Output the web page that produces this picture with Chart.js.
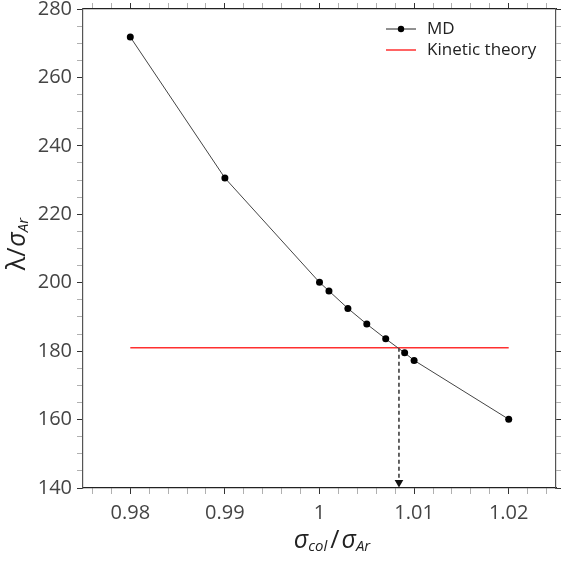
<!DOCTYPE html>
<html>
<head>
<meta charset="utf-8">
<script src="https://cdn.jsdelivr.net/npm/chart.js@4/dist/chart.umd.min.js"></script>
<style>
html,body{margin:0;padding:0;background:#fff;}
#wrap{width:561px;height:561px;position:relative;}
</style>
</head>
<body>
<div id="wrap"><canvas id="c" width="561" height="561"></canvas></div>
<script>
// ---- data ----
const sigmaRatio = [0.98, 0.99, 1.000, 1.001, 1.003, 1.005, 1.007, 1.009, 1.010, 1.020];
const lambdaMD   = [271.8, 230.6, 200.1, 197.6, 192.5, 187.9, 183.6, 179.5, 177.3, 160.1];
const kineticX   = [0.98, 1.02];
const kineticY   = [181, 181];
const arrowX     = [1.0084, 1.0084];
const arrowY     = [181, 141.6];
const xMajorTicks = [0.98, 0.99, 1, 1.01, 1.02];
const xMinorStep  = 0.002;
const yMajorTicks = [140, 160, 180, 200, 220, 240, 260, 280];
const yMinorStep  = 5;
const seriesLabels = ["MD", "Kinetic theory"];

const toPts = (xs, ys) => xs.map((x, i) => ({x: x, y: ys[i]}));
const isMajor = (v, list) => list.some(m => Math.abs(m - v) < 1e-7);

const FONT = "'Open Sans', 'Noto Sans', sans-serif";

function stepTicks(scale, step) {
  const out = [];
  const k0 = Math.ceil(scale.min / step - 1e-9), k1 = Math.floor(scale.max / step + 1e-9);
  for (let k = k0; k <= k1; k++) out.push({ value: Math.round(k * step * 1e6) / 1e6 });
  scale.ticks = out;
}

const titlesPlugin = {
  id: 'titles',
  afterDraw(chart) {
    const ctx = chart.ctx;
    ctx.save();
    ctx.fillStyle = '#222';
    ctx.textBaseline = 'alphabetic';
    function drawPieces(pieces, cx, by) {
      let w = 0;
      pieces.forEach(p => { ctx.font = p[1]; w += ctx.measureText(p[0]).width + (p[3] || 0); });
      let x = cx - w / 2;
      pieces.forEach(p => {
        ctx.font = p[1];
        ctx.fillText(p[0], x, by + p[2]);
        x += ctx.measureText(p[0]).width + (p[3] || 0);
      });
    }
    const big = "italic 25px " + FONT;
    const up = "25px " + FONT;
    const sub = "italic 15px " + FONT;
    drawPieces([
      ["σ", big, 0, 0], ["col", sub, 3, 3], ["/", up, 0, 2], ["σ", big, 0, 0], ["Ar", sub, 3, 0]
    ], 332, 548);
    ctx.translate(25, 244);
    ctx.rotate(-Math.PI / 2);
    drawPieces([
      ["λ", up, 0, 0], ["/", up, 0, 1], ["σ", big, 0, 0], ["Ar", sub, 3, 0]
    ], 0, 0);
    ctx.restore();
  }
};

const legendPlugin = {
  id: 'insideLegend',
  afterDraw(chart) {
    const ctx = chart.ctx;
    const a = chart.chartArea;
    ctx.save();
    const x0 = a.right - 170, x1 = a.right - 140, tx = a.right - 129;
    const rows = [a.top + 20, a.top + 41];
    ctx.strokeStyle = '#222'; ctx.lineWidth = 1;
    ctx.beginPath(); ctx.moveTo(x0, rows[0]); ctx.lineTo(x1, rows[0]); ctx.stroke();
    ctx.fillStyle = '#000';
    ctx.beginPath(); ctx.arc((x0 + x1) / 2, rows[0], 3.2, 0, Math.PI * 2); ctx.fill();
    ctx.strokeStyle = '#ff3030'; ctx.lineWidth = 1.5;
    ctx.beginPath(); ctx.moveTo(x0, rows[1]); ctx.lineTo(x1, rows[1]); ctx.stroke();
    ctx.fillStyle = '#222';
    ctx.font = "17px " + FONT;
    ctx.textBaseline = 'middle';
    ctx.fillText(seriesLabels[0], tx, rows[0]);
    ctx.fillText(seriesLabels[1], tx, rows[1]);
    ctx.restore();
  }
};

function tickGrid(list) {
  return {
    display: true,
    drawOnChartArea: false,
    drawTicks: true,
    tickLength: 6,
    tickWidth: 1,
    tickColor: (c) => (c.tick && isMajor(c.tick.value, list)) ? '#333' : '#b0b0b0'
  };
}

new Chart(document.getElementById('c'), {
  type: 'scatter',
  data: {
    datasets: [
      {
        label: seriesLabels[0],
        data: toPts(sigmaRatio, lambdaMD),
        showLine: true,
        borderColor: '#444',
        borderWidth: 1,
        pointRadius: 3.5,
        pointBackgroundColor: '#000',
        pointBorderWidth: 0,
        order: 1
      },
      {
        label: seriesLabels[1],
        data: toPts(kineticX, kineticY),
        showLine: true,
        borderColor: '#ff3030',
        borderWidth: 1.5,
        pointRadius: 0,
        order: 2
      },
      {
        label: 'arrow',
        data: toPts(arrowX, arrowY),
        showLine: true,
        borderColor: '#111',
        borderWidth: 1.3,
        borderDash: [4, 3],
        pointRadius: [0, 5],
        pointStyle: 'triangle',
        rotation: 180,
        pointBackgroundColor: '#111',
        pointBorderWidth: 0,
        clip: false,
        order: 3
      }
    ]
  },
  options: {
    responsive: false,
    animation: false,
    layout: { padding: 0 },
    plugins: { legend: { display: false }, tooltip: { enabled: false }, title: { display: false } },
    scales: {
      x: {
        type: 'linear', position: 'bottom', min: 0.975, max: 1.025,
        afterBuildTicks: (s) => stepTicks(s, xMinorStep),
        afterFit: (s) => { s.height = 73; },
        border: { color: '#222', width: 1.2 },
        grid: tickGrid(xMajorTicks),
        ticks: {
          autoSkip: false, maxRotation: 0,
          padding: 10, color: '#444', font: { family: FONT, size: 20, lineHeight: 0.9 },
          callback: (v) => isMajor(v, xMajorTicks) ? String(Math.round(v * 100) / 100) : ''
        }
      },
      x2: {
        type: 'linear', position: 'top', min: 0.975, max: 1.025,
        afterBuildTicks: (s) => stepTicks(s, xMinorStep),
        afterFit: (s) => { s.height = 9; },
        border: { color: '#222', width: 1.2 },
        grid: tickGrid(xMajorTicks),
        ticks: { autoSkip: false, display: false }
      },
      y: {
        type: 'linear', position: 'left', min: 140, max: 280,
        afterBuildTicks: (s) => stepTicks(s, yMinorStep),
        afterFit: (s) => { s.width = 83; },
        border: { color: '#555', width: 1.2 },
        grid: tickGrid(yMajorTicks),
        ticks: {
          autoSkip: false,
          padding: 5, color: '#444', font: { family: FONT, size: 20, lineHeight: 0.4 },
          callback: (v) => isMajor(v, yMajorTicks) ? String(v) : ''
        }
      },
      y2: {
        type: 'linear', position: 'right', min: 140, max: 280,
        afterBuildTicks: (s) => stepTicks(s, yMinorStep),
        afterFit: (s) => { s.width = 3; },
        border: { color: '#555', width: 1.2 },
        grid: tickGrid(yMajorTicks),
        ticks: { autoSkip: false, display: false }
      }
    }
  },
  plugins: [titlesPlugin, legendPlugin]
});
</script>
</body>
</html>
